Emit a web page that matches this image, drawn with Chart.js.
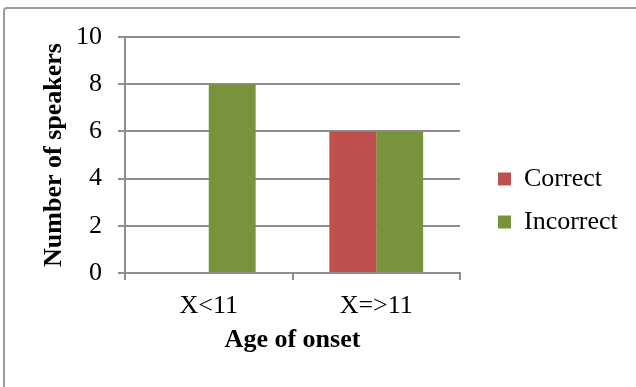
<!DOCTYPE html>
<html>
<head>
<meta charset="utf-8">
<script src="https://cdn.jsdelivr.net/npm/chart.js@4.4.1/dist/chart.umd.min.js"></script>
<style>
  html, body { margin: 0; padding: 0; background: #fff; }
  #wrap { position: relative; width: 636px; height: 387px; overflow: hidden; }
  #frame { position: absolute; left: 3px; top: 7px; width: 660px; height: 400px;
           border: 2px solid #9c9c9c; border-radius: 4px; box-sizing: border-box; }
  #c { position: absolute; left: 0; top: 0; }
</style>
</head>
<body>
<div id="wrap">
  <div id="frame"></div>
  <canvas id="c" width="636" height="387"></canvas>
</div>
<script>
// === Data ===
const ageGroups = ['X<11', 'X=>11'];
const correctCounts = [0, 6];
const incorrectCounts = [8, 6];
const yTicks = [0, 2, 4, 6, 8, 10];

const serif = "'Liberation Serif', 'Times New Roman', serif";
const gridGray = '#8e8e8e';
const legendWidth = 155;

// legend on the right gets a fixed width (layout would otherwise squeeze it)
const legendFit = {
  id: 'legendFit',
  beforeLayout(chart) {
    const lg = chart.legend;
    if (!lg || lg._fixedFit) return;
    const fit = lg.fit;
    lg.fit = function () { fit.call(this); this.width = legendWidth; };
    lg._fixedFit = true;
  },
  afterLayout(chart) {
    // nudge legend items a little upward
    if (chart.legend) chart.legend.top -= 3;
  }
};

const ctx = document.getElementById('c').getContext('2d');
new Chart(ctx, {
  type: 'bar',
  data: {
    labels: ageGroups,
    datasets: [
      { label: 'Correct', data: correctCounts, backgroundColor: '#C0504D' },
      { label: 'Incorrect', data: incorrectCounts, backgroundColor: '#77933C' }
    ]
  },
  plugins: [legendFit],
  options: {
    responsive: false,
    animation: false,
    layout: { padding: { top: 37, bottom: 20, left: 36, right: 0 } },
    datasets: { bar: { barPercentage: 1, categoryPercentage: 0.56 } },
    plugins: {
      tooltip: { enabled: false },
      legend: {
        position: 'right',
        labels: {
          font: { family: serif, size: 26 },
          color: '#000',
          boxWidth: 13, boxHeight: 13,
          padding: 17
        }
      }
    },
    scales: {
      x: {
        grid: { drawOnChartArea: false, color: gridGray, lineWidth: 2, tickLength: 7, offset: true },
        border: { color: gridGray, width: 2 },
        ticks: { font: { family: serif, size: 26 }, color: '#000', padding: 11 },
        title: { display: true, text: 'Age of onset', font: { family: serif, size: 26, weight: 'bold' }, color: '#000', padding: { top: 4, bottom: 11 } },
        afterFit(scale) { scale.height = 94; }
      },
      y: {
        min: 0, max: 10,
        afterBuildTicks(scale) { scale.ticks = yTicks.map(v => ({ value: v })); },
        grid: { color: gridGray, lineWidth: 2, tickLength: 7 },
        border: { color: gridGray, width: 2 },
        ticks: { font: { family: serif, size: 26 }, color: '#000', padding: 16 },
        title: { display: true, text: 'Number of speakers', font: { family: serif, size: 26, weight: 'bold' }, color: '#000', padding: { top: 3, bottom: 3 } },
        afterFit(scale) { scale.width = 89; }
      },
      // blank strip between plot and legend
      gap: {
        position: 'right', display: true, min: 0, max: 1,
        grid: { display: false }, border: { display: false }, ticks: { display: false },
        afterFit(scale) { scale.width = 21; }
      }
    }
  }
});
</script>
</body>
</html>
